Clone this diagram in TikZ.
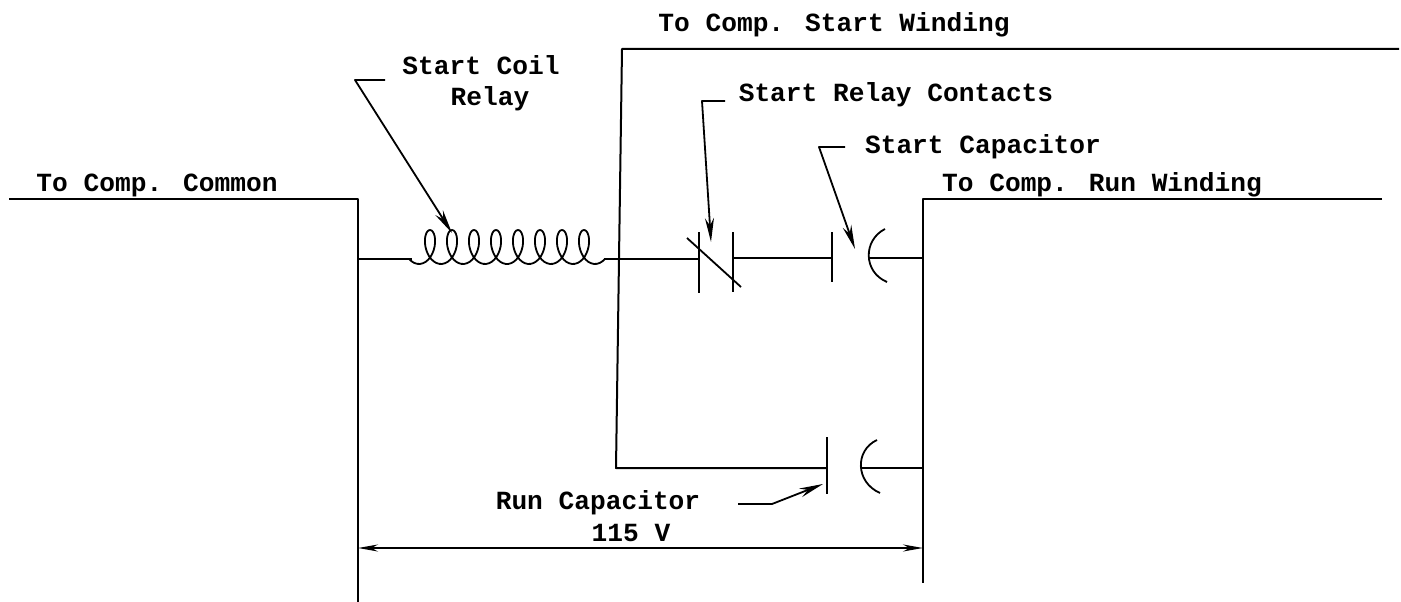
\documentclass[tikz,border=0pt]{standalone}
\usepackage{fontspec}
\setmainfont{Liberation Mono}
\usetikzlibrary{arrows.meta}
\begin{document}
\begin{tikzpicture}[x=1pt,y=-1pt,
    tag/.style={font=\bfseries\fontsize{26.2}{26.2}\selectfont,inner sep=0pt,anchor=base},
    plate/.style={line width=1.8pt},
    wire/.style={line width=2pt,line join=round},
    leader/.style={line width=1.8pt,line join=round,-{Stealth[length=24pt,width=9pt]}},
    span/.style={line width=1.8pt,{Stealth[length=20pt,width=7pt]}-{Stealth[length=20pt,width=7pt]}}]
      \useasboundingbox (0,0) rectangle (1401,602) ;
      % labels
      \node[tag] (start winding) at (834,32) {To Comp. Start Winding} ;
      \node[tag] (start coil) at (481,75) {Start Coil} ;
      \node[tag] (relay) at (490,106) {Relay} ;
      \node[tag] (relay contacts) at (896,101) {Start Relay Contacts} ;
      \node[tag] (start cap) at (983,153) {Start Capacitor} ;
      \node[tag] (common) at (157,191) {To Comp. Common} ;
      \node[tag] (run winding) at (1102,191) {To Comp. Run Winding} ;
      \node[tag] (run cap) at (598,509) {Run Capacitor} ;
      \node[tag] (volts) at (631,541) {115 V} ;
      % wire corners and junctions
      \coordinate (C0) at (9,199) ; \coordinate (C1) at (358,199) ;
      \coordinate (C2) at (358,602) ; \coordinate (J1) at (358,259) ;
      \coordinate (L1) at (412,259) ; \coordinate (L2) at (604,259) ;
      \coordinate (J2) at (619,259) ; \coordinate (S0) at (622,49) ;
      \coordinate (S1) at (1399,49) ; \coordinate (S2) at (616,468) ;
      \coordinate (R0) at (1382,199) ; \coordinate (R1) at (923,199) ;
      \coordinate (R2) at (923,583) ; \coordinate (J3) at (923,258) ;
      \coordinate (J4) at (923,468) ; \coordinate (V1) at (358,548) ;
      \coordinate (V2) at (923,548) ;
      % start relay contacts
      \coordinate (K1) at (699,259) ; \coordinate (K2) at (733,258) ;
      % capacitors
      \coordinate (P1) at (832,258) ; \coordinate (Q1) at (868,258) ;
      \coordinate (P2) at (827,468) ; \coordinate (Q2) at (861,468) ;
      \draw[wire] (C0) -- (C1) -- (C2) ;
      \draw[wire] (S1) -- (S0) -- (S2) -- (P2) ;
      \draw[wire] (R0) -- (R1) -- (R2) ;
      \draw[wire] (J1) -- (L1) ;
      \draw[wire] (L2) -- (J2) -- (K1) ;
      \draw[wire] (K2) -- (P1) ;
      \draw[wire] (Q1) -- (J3) ;
      \draw[wire] (Q2) -- (J4) ;
      % coil
      \draw[plate,line join=round] plot[smooth,samples=240,domain=-45:2925] %
      ({419+\x/360*22+10*sin(\x)},{247+17*cos(\x)}) ;
      % plates
      \draw[plate] (699,232) -- (699,293) ;
      \draw[plate] (733,232) -- (733,292) ;
      \draw[plate] (687,238) -- (741,287) ;
      \draw[plate] (832,232) -- (832,282) ;
      \draw[plate] (885,229) .. controls (863,240) and (863,272) .. (887,282) ;
      \draw[plate] (827,437) -- (827,494) ;
      \draw[plate] (877,440) .. controls (855,450) and (855,482) .. (880,493) ;
      % leaders
      \coordinate (A0) at (385,80) ; \coordinate (A1) at (355,80) ;
      \coordinate (A2) at (452,233) ;
      \draw[leader] (A0) -- (A1) -- (A2) ;
      \coordinate (B0) at (725,101) ; \coordinate (B1) at (702,101) ;
      \coordinate (B2) at (711,242) ;
      \draw[leader] (B0) -- (B1) -- (B2) ;
      \coordinate (D0) at (845,147) ; \coordinate (D1) at (819,147) ;
      \coordinate (D2) at (855,249) ;
      \draw[leader] (D0) -- (D1) -- (D2) ;
      \coordinate (E0) at (738,504) ; \coordinate (E1) at (772,504) ;
      \coordinate (E2) at (823,484) ;
      \draw[leader] (E0) -- (E1) -- (E2) ;
      \draw[span] (V1) -- (V2) ;
    \end{tikzpicture}
\end{document}
